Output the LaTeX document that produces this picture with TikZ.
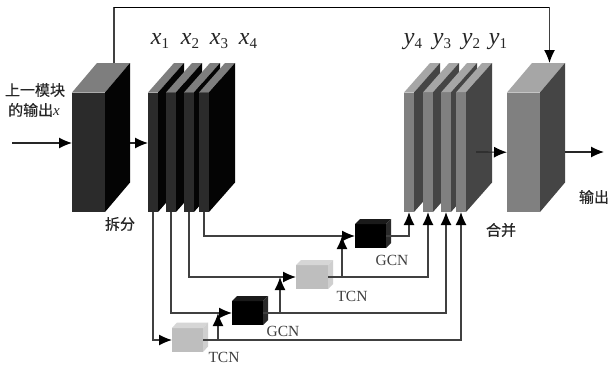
\documentclass[tikz,border=0pt]{standalone}
\usepackage{fontspec}
\setmainfont{Liberation Serif}
\newfontfamily\cjkfont[FakeBold=0.4]{Noto Sans CJK SC}
\usetikzlibrary{arrows.meta}
\definecolor{darkfront}{HTML}{2B2B2B}
\definecolor{darkside}{HTML}{040404}
\definecolor{darktop}{HTML}{7E7E7E}
\definecolor{greyfront}{HTML}{808080}
\definecolor{greyside}{HTML}{454545}
\definecolor{greytop}{HTML}{A6A6A6}
\definecolor{softfront}{HTML}{BEBEBE}
\definecolor{softside}{HTML}{CFCFCF}
\definecolor{softtop}{HTML}{D6D6D6}
\definecolor{inkfront}{HTML}{000000}
\definecolor{inkside}{HTML}{2A2A2A}
\definecolor{inktop}{HTML}{1A1A1A}
\definecolor{wire}{HTML}{404040}
\newcommand{\solid}[8]{%
  % name, left, top, width, height, dx, dy, scheme
  \node[fill=#8front, inner sep=0pt, outer sep=0pt, minimum width=#4pt, minimum height=#5pt, anchor=north west] (#1) at (#2,#3) {};
  \fill[#8top] (#1.north west) -- ++(#6,#7) -- ++(#4,0) -- (#1.north east) -- cycle;
  \fill[#8side] (#1.north east) -- ++(#6,#7) -- ++(0,#5) -- (#1.south east) -- cycle;
}
\newcommand{\varname}[2]{{\itshape #1}\raisebox{-3.5pt}{\fontsize{15}{15}\selectfont #2}}
\tikzset{
  wireline/.style={draw=wire, line width=1.3pt},
  flow/.style={wireline, -{Latex[length=13pt,width=11pt,black]}},
  flowb/.style={line width=1.2pt, draw=black!85, -{Latex[length=13pt,width=11pt,black]}},
  cjklabel/.style={font=\cjkfont\fontsize{15}{16}\selectfont, text=black!85, inner sep=0pt},
  netlabel/.style={font=\fontsize{15.5}{17}\selectfont, text=black!75, inner sep=0pt},
  varlabel/.style={font=\fontsize{24}{26}\selectfont, text=black!85, inner sep=0pt},
}
\begin{document}
\begin{tikzpicture}[x=1pt,y=-1pt]
\useasboundingbox[fill=white] (0,0) rectangle (609,369);
% main blocks
\solid{split}{72}{92.5}{33}{119.5}{25}{-29.5}{dark}
\solid{x1}{148}{92.5}{10}{119.5}{26}{-29.5}{dark}
\solid{x2}{166}{92.5}{10}{119.5}{26}{-29.5}{dark}
\solid{x3}{184}{92.5}{10}{119.5}{26}{-29.5}{dark}
\solid{x4}{199}{92.5}{10}{119.5}{26}{-29.5}{dark}
\solid{y4}{404}{92.5}{10}{119.5}{26}{-29.5}{grey}
\solid{y3}{423}{92.5}{10}{119.5}{26}{-29.5}{grey}
\solid{y2}{441}{92.5}{10}{119.5}{26}{-29.5}{grey}
\solid{y1}{456}{92.5}{10}{119.5}{26}{-29.5}{grey}
\solid{merge}{507}{92.5}{33}{119.5}{25}{-29.5}{grey}
% small cubes
\solid{tcna}{172}{328}{31}{24}{5}{-5.5}{soft}
\solid{gcna}{232}{301}{31}{24}{5}{-5}{ink}
\solid{tcnb}{296}{265}{32}{24}{5}{-5}{soft}
\solid{gcnb}{355}{224}{31}{24}{5}{-5}{ink}
% free ends
\coordinate (inA) at (12,143);
\coordinate (splitOut) at (130,143);
\coordinate (skipA) at (114,63);
\coordinate (skipB) at (114,7.5);
\coordinate (skipC) at (549.5,63);
\coordinate (yOut) at (476,152);
\coordinate (finalOut) at (565,152);
\coordinate (finalEnd) at (604,152);
\coordinate (brA) at (218,340);
\coordinate (brB) at (280,313);
\coordinate (brC) at (342,277);
% connectors
\draw[flowb] (inA) -- (inA -| split.west);
\draw[flowb] (splitOut) -- (splitOut -| x1.west);
\draw[flowb] (yOut) -- (merge.west);
\draw[flowb] (finalOut) -- (finalEnd);
\draw[wireline] (skipA) -- (skipB);
\draw[line width=1.3pt, draw=black] (skipB) -- (skipB -| skipC);
\draw[flow] (skipB -| skipC) -- (skipC);
\draw[flow] (x1.south) |- (tcna.west);
\draw[flow] (x2.south) |- (gcna.west);
\draw[flow] (x3.south) |- (tcnb.west);
\draw[flow] (x4.south) |- (gcnb.west);
\draw[flow] (tcna.east) -| (y1.south);
\draw[flow] (gcna.east) -| (y2.south);
\draw[flow] (tcnb.east) -| (y3.south);
\draw[flow] (gcnb.east) -| (y4.south);
\draw[flow] (brA) -- (brA |- gcna.west);
\draw[flow] (brB) -- (brB |- tcnb.west);
\draw[flow] (brC) -- (brC |- gcnb.west);
% labels
\node[varlabel] (lx1) at (160,41) {\varname{x}{1}};
\node[varlabel] (lx2) at (190,41) {\varname{x}{2}};
\node[varlabel] (lx3) at (219,41) {\varname{x}{3}};
\node[varlabel] (lx4) at (248,41) {\varname{x}{4}};
\node[varlabel] (ly4) at (413,42) {\varname{y}{4}};
\node[varlabel] (ly3) at (442,42) {\varname{y}{3}};
\node[varlabel] (ly2) at (471,42) {\varname{y}{2}};
\node[varlabel] (ly1) at (498,42) {\varname{y}{1}};
\node[cjklabel] (t1) at (35,90) {上一模块};
\node[cjklabel] (t2) at (34,110) {的输出{\fontspec{Liberation Serif}\itshape x}};
\node[cjklabel] (t3) at (120,224) {拆分};
\node[cjklabel] (t4) at (501,230) {合并};
\node[cjklabel] (t5) at (594,197) {输出};
\node[netlabel] (n1) at (283,331) {GCN};
\node[netlabel] (n2) at (224,357) {TCN};
\node[netlabel] (n3) at (392,260) {GCN};
\node[netlabel] (n4) at (352,296) {TCN};
\end{tikzpicture}
\end{document}
